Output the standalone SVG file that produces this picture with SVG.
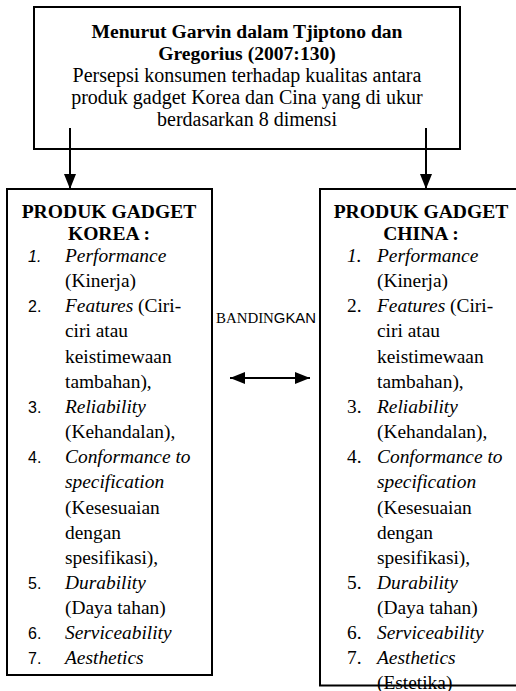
<svg xmlns="http://www.w3.org/2000/svg" width="516" height="691" viewBox="0 0 516 691">
<style>
.box{fill:#fff;stroke:#000;stroke-width:2}
.t{font-family:"Liberation Serif","Times New Roman",serif;font-size:19.4px;fill:#000}
.h{font-size:19.6px}
.p{font-size:20px}
.b{font-weight:bold}
.c{text-anchor:middle}
.i{font-style:italic}
.n{font-family:"Liberation Sans",Arial,sans-serif;font-size:16px;fill:#000}
.ln{stroke:#000;stroke-width:2;fill:none}
</style>
<defs>
<marker id="ah" viewBox="0 0 15 12" refX="15" refY="6" markerWidth="15" markerHeight="12" markerUnits="userSpaceOnUse" orient="auto-start-reverse">
<path d="M0,0 L15,6 L0,12 Z" fill="#000"/>
</marker>
</defs>
<rect width="516" height="691" fill="#fff"/>
<g id="top">
<rect class="box" x="34" y="7" width="426" height="142"/>
<text class="t h b c" x="247" y="38">Menurut Garvin dalam Tjiptono dan</text>
<text class="t h b c" x="247" y="60">Gregorius (2007:130)</text>
<text class="t p c" x="247" y="82">Persepsi konsumen terhadap kualitas antara</text>
<text class="t p c" x="247" y="104">produk gadget Korea dan Cina yang di ukur</text>
<text class="t p c" x="247" y="126">berdasarkan 8 dimensi</text>
</g>
<g id="korea">
<rect class="box" x="7" y="189" width="205" height="486"/>
<text class="t h b c" x="109" y="218">PRODUK GADGET</text>
<text class="t h b c" x="109" y="240">KOREA :</text>
<text class="n i" x="28" y="262">1.</text>
<text class="t i" x="65" y="262">Performance</text>
<text class="t" x="65" y="287">(Kinerja)</text>
<text class="n" x="28" y="312">2.</text>
<text class="t" x="65" y="312"><tspan class="i">Features</tspan> (Ciri-</text>
<text class="t" x="65" y="337">ciri atau</text>
<text class="t" x="65" y="363">keistimewaan</text>
<text class="t" x="65" y="388">tambahan),</text>
<text class="n" x="28" y="413">3.</text>
<text class="t i" x="65" y="413">Reliability</text>
<text class="t" x="65" y="438">(Kehandalan),</text>
<text class="n" x="28" y="463">4.</text>
<text class="t i" x="65" y="463">Conformance to</text>
<text class="t i" x="65" y="488">specification</text>
<text class="t" x="65" y="514">(Kesesuaian</text>
<text class="t" x="65" y="539">dengan</text>
<text class="t" x="65" y="564">spesifikasi),</text>
<text class="n" x="28" y="589">5.</text>
<text class="t i" x="65" y="589">Durability</text>
<text class="t" x="65" y="614">(Daya tahan)</text>
<text class="n" x="28" y="639">6.</text>
<text class="t i" x="65" y="639">Serviceability</text>
<text class="n" x="28" y="664">7.</text>
<text class="t i" x="65" y="664">Aesthetics</text>
</g>
<g id="china">
<text class="t i" x="347" y="262">1.</text>
<text class="t i" x="377" y="262">Performance</text>
<text class="t" x="377" y="287">(Kinerja)</text>
<text class="t" x="347" y="312">2.</text>
<text class="t" x="377" y="312"><tspan class="i">Features</tspan> (Ciri-</text>
<text class="t" x="377" y="337">ciri atau</text>
<text class="t" x="377" y="363">keistimewaan</text>
<text class="t" x="377" y="388">tambahan),</text>
<text class="t" x="347" y="413">3.</text>
<text class="t i" x="377" y="413">Reliability</text>
<text class="t" x="377" y="438">(Kehandalan),</text>
<text class="t" x="347" y="463">4.</text>
<text class="t i" x="377" y="463">Conformance to</text>
<text class="t i" x="377" y="488">specification</text>
<text class="t" x="377" y="514">(Kesesuaian</text>
<text class="t" x="377" y="539">dengan</text>
<text class="t" x="377" y="564">spesifikasi),</text>
<text class="t" x="347" y="589">5.</text>
<text class="t i" x="377" y="589">Durability</text>
<text class="t" x="377" y="614">(Daya tahan)</text>
<text class="t" x="347" y="639">6.</text>
<text class="t i" x="377" y="639">Serviceability</text>
<text class="t" x="347" y="664">7.</text>
<text class="t i" x="377" y="664">Aesthetics</text>
<text class="t" x="377" y="689">(Estetika)</text>
<path class="ln" d="M530,189 H320 V685.5 H530"/>
<text class="t h b c" x="421" y="218">PRODUK GADGET</text>
<text class="t h b c" x="421" y="240">CHINA :</text>
</g>
<g id="label">
<text x="216" y="323" textLength="100" lengthAdjust="spacingAndGlyphs" style="font-size:14px;fill:#000"><tspan style="font-family:'Liberation Serif',serif">BANDIN</tspan><tspan style="font-family:'Liberation Sans',sans-serif">GKAN</tspan></text>
</g>
<g id="connectors">
<line class="ln" x1="70" y1="128" x2="70" y2="189" marker-end="url(#ah)"/>
<line class="ln" x1="426" y1="128" x2="426" y2="189" marker-end="url(#ah)"/>
<line class="ln" x1="230" y1="378" x2="310" y2="378" marker-start="url(#ah)" marker-end="url(#ah)"/>
</g>
</svg>
